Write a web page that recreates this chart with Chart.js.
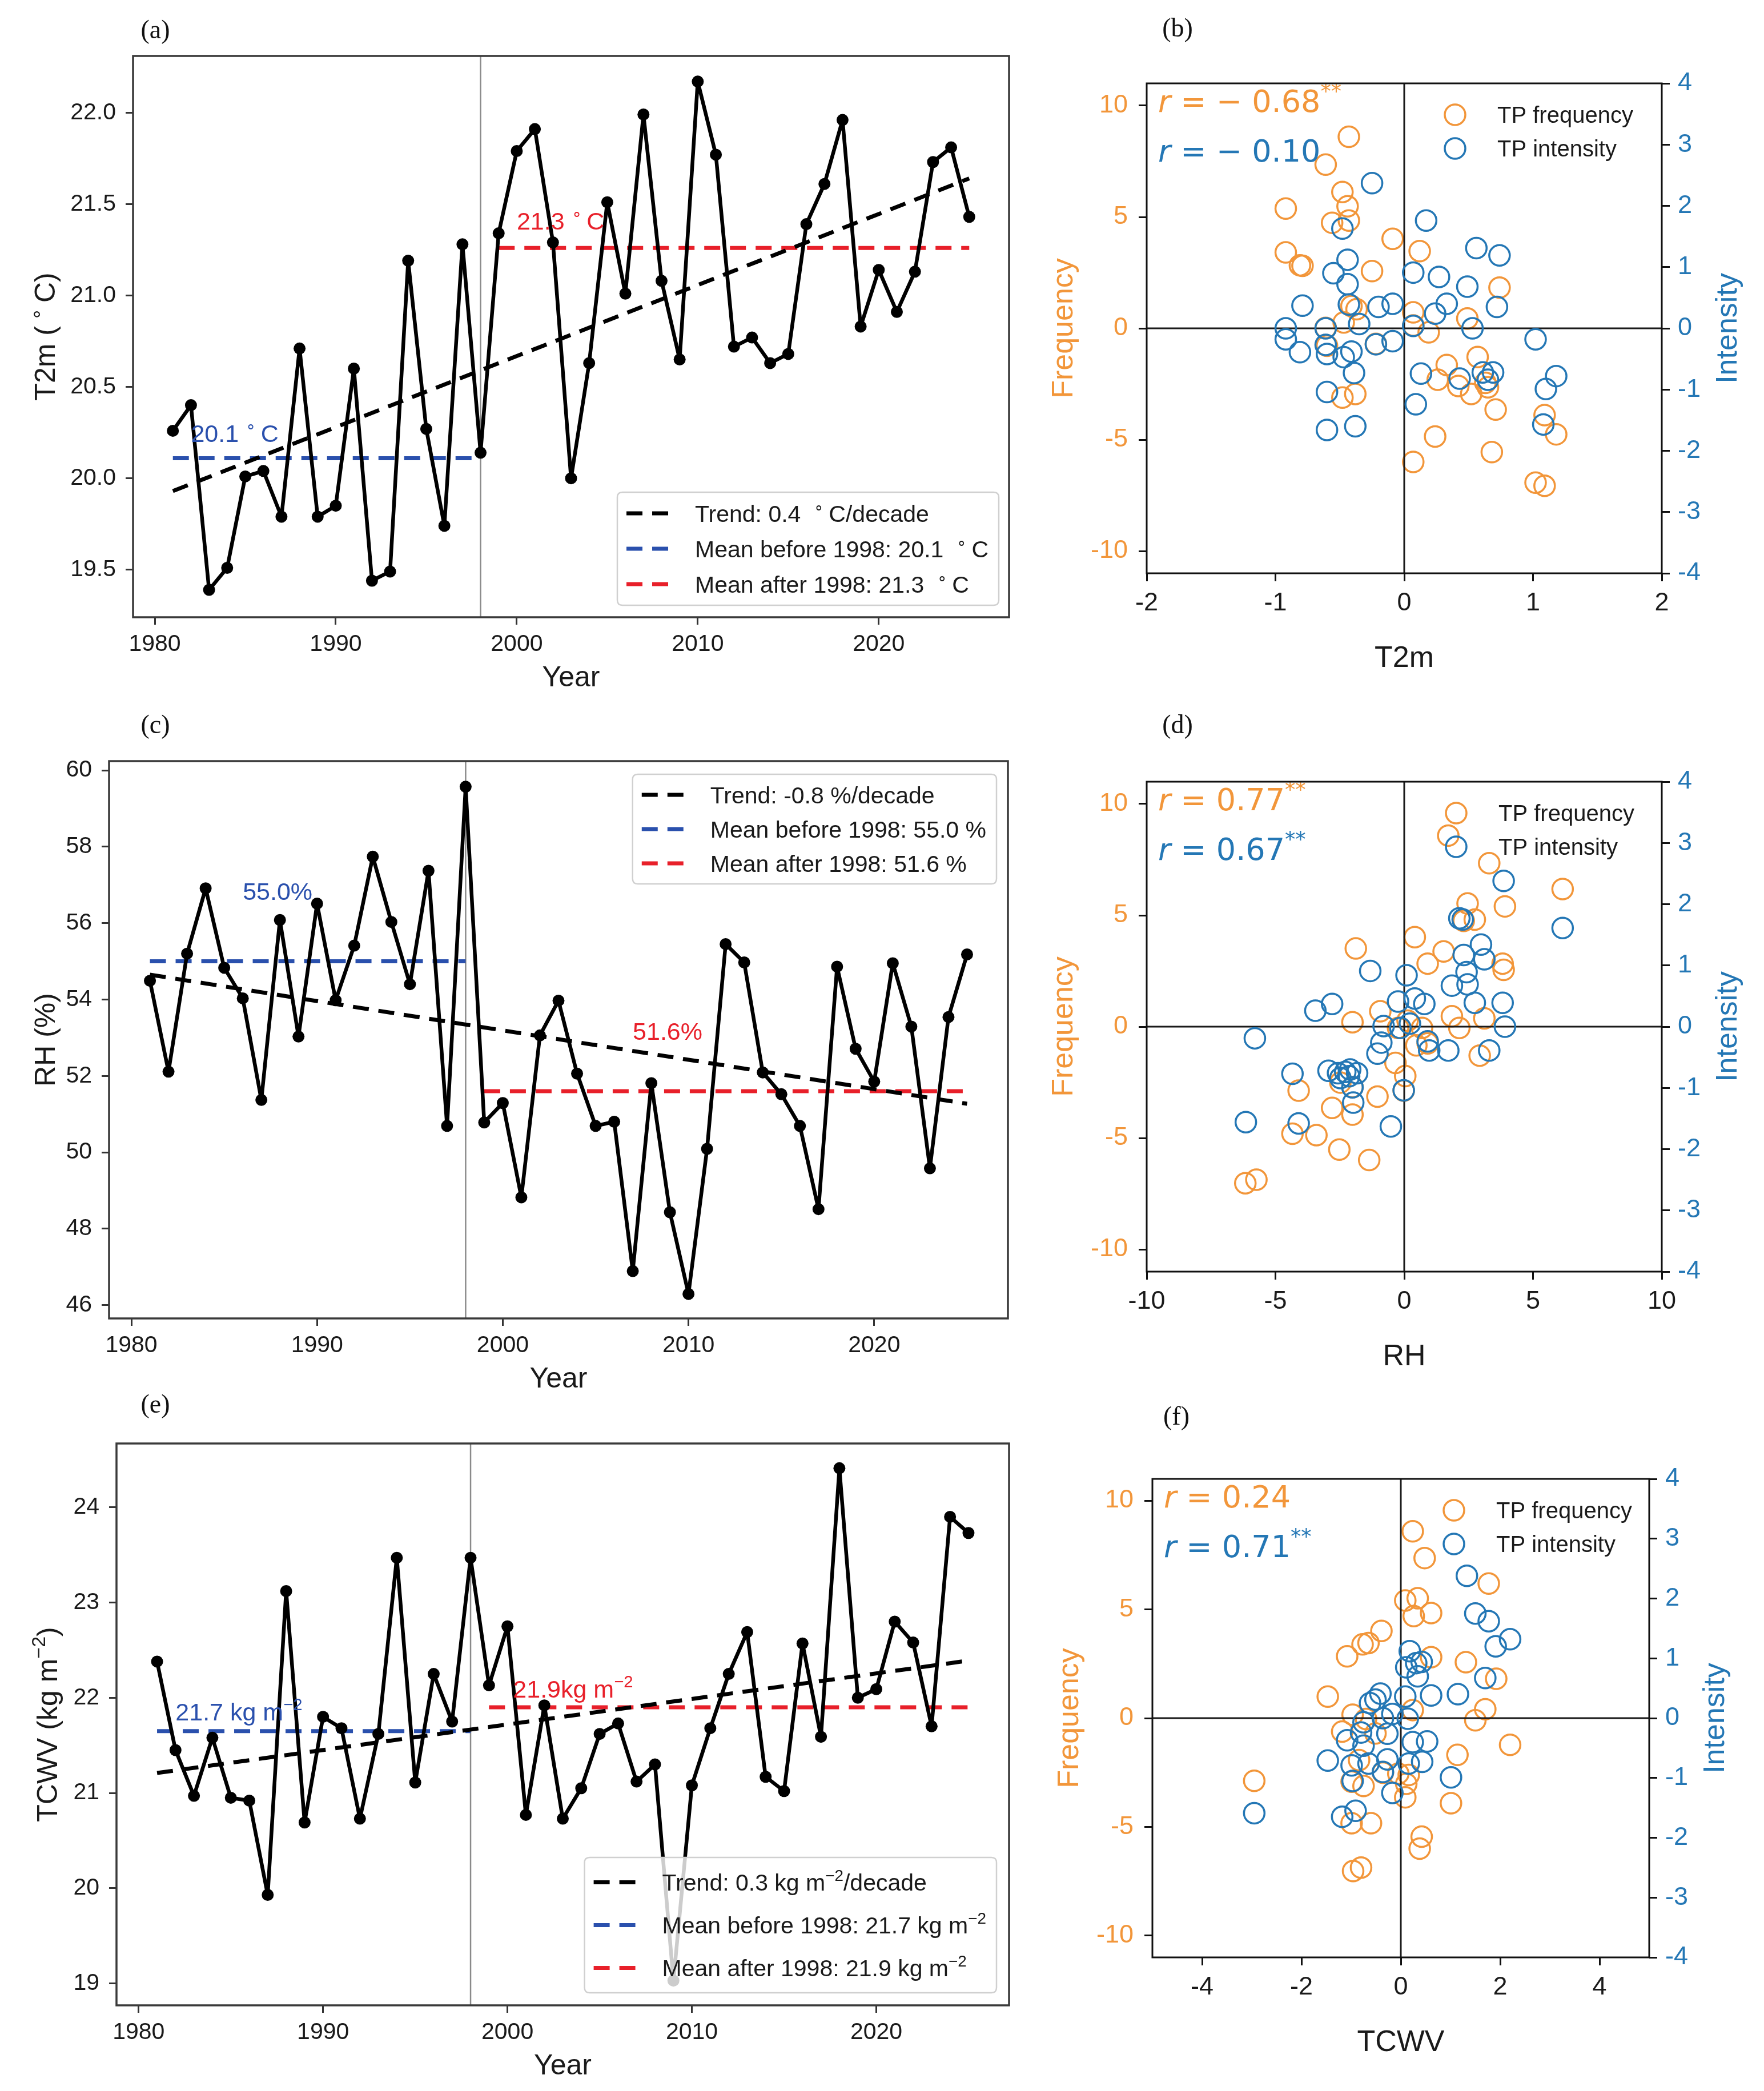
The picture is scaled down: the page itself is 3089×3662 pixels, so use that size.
<!DOCTYPE html>
<html>
<head>
<meta charset="utf-8">
<script src="https://cdn.jsdelivr.net/npm/chart.js@4.4.1/dist/chart.umd.min.js"></script>
<style>
  html, body { margin: 0; padding: 0; background: #fff; }
  body { width: 3089px; height: 3662px; position: relative; overflow: hidden; }
  canvas { position: absolute; }
</style>
</head>
<body>
<canvas id="ca"></canvas>
<canvas id="cb"></canvas>
<canvas id="cc"></canvas>
<canvas id="cd"></canvas>
<canvas id="ce"></canvas>
<canvas id="cf"></canvas>
<script>
// ---- data ----
const years = [1981, 1982, 1983, 1984, 1985, 1986, 1987, 1988, 1989, 1990,
  1991, 1992, 1993, 1994, 1995, 1996, 1997, 1998, 1999, 2000,
  2001, 2002, 2003, 2004, 2005, 2006, 2007, 2008, 2009, 2010,
  2011, 2012, 2013, 2014, 2015, 2016, 2017, 2018, 2019, 2020,
  2021, 2022, 2023, 2024, 2025];
const yearTicks = [1980, 1990, 2000, 2010, 2020];
const yearRange = [1978.8, 2027.2];
const beforeSpan = [1981, 1998];
const afterSpan = [1999, 2025];
const breakYear = 1998;

const t2m = [20.26, 20.40, 19.39, 19.51, 20.01, 20.04, 19.79, 20.71, 19.79, 19.85,
  20.60, 19.44, 19.49, 21.19, 20.27, 19.74, 21.28, 20.14, 21.34, 21.79,
  21.91, 21.29, 20.00, 20.63, 21.51, 21.01, 21.99, 21.08, 20.65, 22.17,
  21.77, 20.72, 20.77, 20.63, 20.68, 21.39, 21.61, 21.96, 20.83, 21.14,
  20.91, 21.13, 21.73, 21.81, 21.43];
const t2mTrend = [19.93, 21.64];
const t2mMeans = [20.11, 21.26];
const t2mRange = [19.24, 22.31];
const t2mTicks = [19.5, 20.0, 20.5, 21.0, 21.5, 22.0];

const rh = [54.49, 52.11, 55.2, 56.91, 54.83, 54.03, 51.37, 56.08, 53.03, 56.51,
  53.98, 55.41, 57.74, 56.03, 54.4, 57.37, 50.69, 59.57, 50.78, 51.29,
  48.82, 53.06, 53.97, 52.06, 50.69, 50.8, 46.89, 51.81, 48.43, 46.29,
  50.09, 55.45, 54.97, 52.09, 51.52, 50.69, 48.51, 54.86, 52.71, 51.85,
  54.95, 53.29, 49.58, 53.54, 55.18];
const rhTrend = [54.65, 51.27];
const rhMeans = [55.0, 51.6];
const rhRange = [45.65, 60.24];
const rhTicks = [46, 48, 50, 52, 54, 56, 58, 60];

const tcwv = [22.38, 21.45, 20.97, 21.58, 20.95, 20.92, 19.93, 23.12, 20.69, 21.80,
  21.68, 20.73, 21.62, 23.47, 21.11, 22.25, 21.75, 23.47, 22.13, 22.75,
  20.77, 21.92, 20.73, 21.05, 21.62, 21.73, 21.12, 21.30, 19.03, 21.08,
  21.68, 22.25, 22.69, 21.17, 21.02, 22.57, 21.59, 24.41, 22.00, 22.09,
  22.80, 22.58, 21.70, 23.90, 23.73];
const tcwvTrend = [21.21, 22.39];
const tcwvMeans = [21.65, 21.9];
const tcwvRange = [18.77, 24.67];
const tcwvTicks = [19, 20, 21, 22, 23, 24];

// scatter: [anomaly, value]
const freqT2m = [[-0.43, 8.6], [-0.61, 7.35], [-0.92, 5.38], [-0.48, 6.12], [-0.44, 5.48], [-0.56, 4.74],
  [-0.43, 4.84], [-0.09, 4.02], [-0.92, 3.41], [-0.81, 2.83], [-0.79, 2.81], [0.12, 3.47], [-0.25, 2.57],
  [0.74, 1.83], [-0.41, 1.00], [-0.37, 0.86], [0.07, 0.72], [0.49, 0.44], [-0.61, 0.02], [-0.47, 0.26],
  [0.07, 0.13], [-0.60, -0.78], [-0.22, -0.70], [0.19, -0.18], [0.57, -1.29], [0.33, -1.65], [0.26, -2.31],
  [0.42, -2.59], [0.52, -2.95], [0.65, -2.65], [0.63, -2.45], [-0.48, -3.11], [-0.38, -2.95], [0.71, -3.65],
  [1.09, -3.90], [1.18, -4.76], [0.24, -4.86], [0.07, -6.0], [0.68, -5.56], [1.02, -6.93], [1.09, -7.07]];
const intT2m = [[-0.25, 2.37], [-0.48, 1.63], [0.17, 1.76], [0.56, 1.31], [0.74, 1.19], [-0.44, 1.12],
  [-0.55, 0.90], [0.07, 0.91], [0.27, 0.84], [-0.44, 0.72], [0.49, 0.68], [-0.79, 0.37], [-0.20, 0.35],
  [-0.09, 0.40], [-0.43, 0.39], [0.33, 0.40], [0.24, 0.24], [0.72, 0.35], [-0.92, 0.0], [-0.61, 0.0],
  [-0.35, 0.07], [0.07, 0.04], [0.53, 0.0], [-0.92, -0.18], [1.02, -0.18], [-0.09, -0.21], [-0.22, -0.26],
  [-0.61, -0.27], [-0.81, -0.39], [-0.60, -0.42], [-0.41, -0.38], [-0.47, -0.47], [-0.39, -0.73], [0.13, -0.74],
  [0.43, -0.82], [0.61, -0.72], [0.69, -0.72], [0.65, -0.84], [1.18, -0.78], [1.10, -0.99], [-0.60, -1.04],
  [0.09, -1.24], [-0.60, -1.66], [-0.38, -1.60], [1.08, -1.57]];
const freqRH = [[1.71, 8.58], [3.30, 7.34], [6.15, 6.18], [3.91, 5.40], [2.46, 5.53], [2.31, 4.75],
  [2.74, 4.81], [0.41, 4.02], [-1.88, 3.51], [1.53, 3.38], [0.91, 2.83], [3.82, 2.83], [3.86, 2.55], [-0.93, 0.69],
  [-2.01, 0.20], [1.85, 0.47], [2.14, -0.06], [3.11, 0.37], [0.13, 0.27], [-0.24, -0.06], [0.69, -0.06],
  [0.91, -0.75], [0.47, -0.84], [2.93, -1.30], [-0.34, -1.63], [0.04, -2.22], [-2.48, -2.51], [-2.01, -2.71],
  [-4.10, -2.87], [-0.02, -2.87], [-1.04, -3.14], [-2.80, -3.65], [-2.01, -3.95], [-4.34, -4.81], [-3.41, -4.87],
  [-2.52, -5.52], [-1.36, -5.99], [-6.17, -7.03], [-5.74, -6.87]];
const intRH = [[3.86, 2.38], [6.15, 1.61], [2.14, 1.77], [2.27, 1.75], [2.98, 1.34], [2.31, 1.17],
  [3.11, 1.10], [-1.32, 0.91], [0.09, 0.84], [2.42, 0.89], [1.85, 0.67], [2.46, 0.69], [2.74, 0.39], [3.82, 0.39],
  [-3.45, 0.26], [-2.80, 0.37], [-0.24, 0.41], [0.41, 0.46], [0.78, 0.37], [-0.80, 0.01], [0.22, 0.05], [3.91, 0.0],
  [-0.15, -0.02], [-5.80, -0.19], [-0.89, -0.26], [0.91, -0.24], [0.97, -0.39], [-1.04, -0.44], [1.71, -0.39],
  [3.30, -0.39], [-4.34, -0.77], [-2.94, -0.72], [-2.57, -0.76], [-2.29, -0.74], [-2.10, -0.70], [-1.83, -0.76],
  [-2.48, -0.84], [-2.01, -0.99], [-0.02, -1.04], [-1.98, -1.24], [-6.15, -1.56], [-4.10, -1.58], [-0.52, -1.63],
  [-2.14, -0.81]];
const freqTCWV = [[0.24, 8.59], [0.48, 7.36], [1.77, 6.19], [0.09, 5.41], [0.34, 5.51], [0.26, 4.69],
  [0.61, 4.83], [-0.39, 4.01], [-0.77, 3.39], [-0.65, 3.45], [-1.08, 2.84], [0.61, 2.80], [1.31, 2.57], [1.92, 1.81],
  [-1.47, 0.99], [-0.97, 0.16], [1.70, 0.41], [0.24, 0.37], [1.50, -0.10], [-0.70, -0.04], [-1.18, -0.62],
  [-0.51, -0.70], [2.20, -1.23], [1.14, -1.69], [-0.84, -1.93], [-0.36, -2.51], [0.16, -2.61], [-0.05, -2.55],
  [-2.95, -2.88], [-0.75, -3.12], [-0.99, -2.92], [1.01, -3.91], [0.09, -3.64], [-0.99, -4.83], [-0.60, -4.83],
  [0.42, -5.45], [0.38, -6.00], [-0.96, -7.03], [-0.80, -6.87], [0.11, -3.02]];
const intTCWV = [[1.33, 2.38], [1.50, 1.75], [1.77, 1.62], [2.20, 1.32], [1.91, 1.20], [0.18, 1.12],
  [0.11, 0.85], [0.31, 0.92], [0.42, 0.94], [0.34, 0.70], [1.70, 0.67], [0.61, 0.38], [1.15, 0.40], [0.09, 0.36],
  [-0.41, 0.41], [-0.51, 0.31], [-0.62, 0.25], [-0.17, 0.07], [0.14, -0.01], [-0.36, 0.0], [-0.75, -0.07],
  [-1.08, -0.37], [-0.80, -0.24], [-0.27, -0.26], [0.24, -0.40], [0.53, -0.39], [-0.75, -0.46], [-1.47, -0.71],
  [-0.99, -0.79], [-0.65, -0.76], [-0.27, -0.69], [0.16, -0.76], [0.43, -0.73], [-0.36, -0.90], [1.01, -0.99],
  [-0.97, -1.05], [-0.17, -1.25], [-2.95, -1.59], [-1.18, -1.65], [-0.91, -1.55]];

const t2mAnomRange = [-2, 2], t2mAnomTicks = [-2, -1, 0, 1, 2];
const rhAnomRange = [-10, 10], rhAnomTicks = [-10, -5, 0, 5, 10];
const tcwvAnomRange = [-5, 5], tcwvAnomTicks = [-4, -2, 0, 2, 4];
const freqRange = [-11, 11], freqTicks = [-10, -5, 0, 5, 10];
const intRange = [-4, 4], intTicks = [-4, -3, -2, -1, 0, 1, 2, 3, 4];
const seriesNames = ['TP frequency', 'TP intensity'];

// ---- styles ----
const FONT = "'Liberation Sans', Arial, Helvetica, sans-serif";
const MATH = "'DejaVu Sans', sans-serif";
const SERIF = "'Liberation Serif', 'Times New Roman', serif";
const ORANGE = '#f2963a';
const BLUE = '#2477b5';
const MEANBLUE = '#2a50ad';
const RED = '#e8202a';
const DASH = [28, 17];

// tiny rich text: ^{..} superscript, *{..} italic
function segs(s) {
  const out = [];
  const re = /([\^*])\{([^}]*)\}/g;
  let last = 0, m;
  while ((m = re.exec(s))) {
    if (m.index > last) out.push({ t: s.slice(last, m.index) });
    out.push({ t: m[2], sup: m[1] === '^', it: m[1] === '*' });
    last = re.lastIndex;
  }
  if (last < s.length) out.push({ t: s.slice(last) });
  return out;
}
function segFont(g, size, fam) {
  return (g.it ? 'italic ' : '') + (g.sup ? size * 0.68 : size) + 'px ' + fam;
}
function richWidth(ctx, s, size, fam) {
  let w = 0;
  segs(s).forEach(g => { ctx.font = segFont(g, size, fam); w += ctx.measureText(g.t).width; });
  return w;
}
function drawRich(ctx, s, x, y, size, fam, color, align) {
  const w = richWidth(ctx, s, size, fam);
  let px = align === 'center' ? x - w / 2 : (align === 'right' ? x - w : x);
  ctx.fillStyle = color;
  ctx.textAlign = 'left';
  ctx.textBaseline = 'alphabetic';
  segs(s).forEach(g => {
    ctx.font = segFont(g, size, fam);
    ctx.fillText(g.t, px, g.sup ? y - size * 0.42 : y);
    px += ctx.measureText(g.t).width;
  });
}
function drawRotated(ctx, s, cx, cy, size, fam, color) {
  ctx.save();
  ctx.translate(cx, cy);
  ctx.rotate(-Math.PI / 2);
  drawRich(ctx, s, 0, size * 0.36, size, fam, color, 'center');
  ctx.restore();
}
function roundBox(ctx, x, y, w, h, r) {
  ctx.beginPath();
  ctx.moveTo(x + r, y);
  ctx.lineTo(x + w - r, y); ctx.quadraticCurveTo(x + w, y, x + w, y + r);
  ctx.lineTo(x + w, y + h - r); ctx.quadraticCurveTo(x + w, y + h, x + w - r, y + h);
  ctx.lineTo(x + r, y + h); ctx.quadraticCurveTo(x, y + h, x, y + h - r);
  ctx.lineTo(x, y + r); ctx.quadraticCurveTo(x, y, x + r, y);
  ctx.closePath();
}
function placeCanvas(id, rect) {
  const c = document.getElementById(id);
  c.width = rect[2]; c.height = rect[3];
  c.style.left = rect[0] + 'px'; c.style.top = rect[1] + 'px';
  c.style.width = rect[2] + 'px'; c.style.height = rect[3] + 'px';
  return c;
}
function pts(xs, ys) { return xs.map((x, i) => ({ x: x, y: ys[i] })); }
function tickAxis(o) {
  return {
    type: 'linear', position: o.position, min: o.range[0], max: o.range[1],
    afterFit: s => { if (o.width !== undefined) s.width = o.width; if (o.height !== undefined) s.height = o.height; },
    afterBuildTicks: s => { s.ticks = o.ticks.map(v => ({ value: v })); },
    ticks: { autoSkip: false, maxRotation: 0, minRotation: 0, padding: o.pad, color: o.color,
      font: { size: o.size, family: FONT }, callback: o.fmt },
    grid: { drawOnChartArea: false, drawTicks: true, tickLength: o.tl, tickWidth: 3, tickColor: o.tickColor || '#333' },
    border: { display: false },
    title: { display: false }
  };
}

// ---- time series panels ----
function timeSeries(p) {
  const [cx, cy, cw, ch] = p.rect;
  const [bl, bt, br, bb] = p.box;
  const canvas = placeCanvas(p.id, p.rect);
  const deco = {
    id: 'tsDeco',
    afterDatasetsDraw(chart) {
      const ctx = chart.ctx, a = chart.chartArea, xs = chart.scales.x, ys = chart.scales.y;
      ctx.save();
      p.notes.forEach(n => drawRich(ctx, n.text, xs.getPixelForValue(n.x), ys.getPixelForValue(n.y), 43, FONT, n.color, 'left'));
      const L = p.legend;
      let tw = 0;
      L.items.forEach(it => { tw = Math.max(tw, richWidth(ctx, it.text, 41, FONT)); });
      const bw = 136 + tw + 18, bh = L.rowH * 3 + 12;
      const bx = a.right - L.dx - bw;
      const by = L.upper ? a.top + L.dy : a.bottom - L.dy - bh;
      roundBox(ctx, bx, by, bw, bh, 9);
      ctx.fillStyle = 'rgba(255,255,255,0.8)';
      ctx.fill();
      ctx.strokeStyle = '#d0d0d0'; ctx.lineWidth = 2.5; ctx.stroke();
      L.items.forEach((it, i) => {
        const yc = by + 6 + L.rowH * (i + 0.5);
        ctx.strokeStyle = it.color; ctx.lineWidth = 7; ctx.setLineDash(DASH); ctx.lineCap = 'butt';
        ctx.beginPath(); ctx.moveTo(bx + 16, yc); ctx.lineTo(bx + 90, yc); ctx.stroke();
        ctx.setLineDash([]);
        drawRich(ctx, it.text, bx + 136, yc + 41 * 0.36, 41, FONT, '#1a1a1a', 'left');
      });
      ctx.restore();
    },
    afterDraw(chart) {
      const ctx = chart.ctx, a = chart.chartArea;
      ctx.save();
      ctx.strokeStyle = '#3a3a3a'; ctx.lineWidth = 3.5;
      ctx.strokeRect(a.left, a.top, a.width, a.height);
      drawRich(ctx, 'Year', (a.left + a.right) / 2, a.bottom + 103 + 18, 50, FONT, '#1a1a1a', 'center');
      drawRotated(ctx, p.yTitle, p.yTitleX - cx, (a.top + a.bottom) / 2, 50, FONT, '#1a1a1a');
      ctx.font = '46px ' + SERIF; ctx.fillStyle = '#111'; ctx.textAlign = 'center'; ctx.textBaseline = 'middle';
      ctx.fillText(p.label, p.labelPos[0] - cx, p.labelPos[1] - cy);
      ctx.restore();
    }
  };
  new Chart(canvas, {
    type: 'scatter',
    data: {
      datasets: [
        { data: pts(years, p.values), showLine: true, borderColor: '#000', borderWidth: 6.5, borderJoinStyle: 'round',
          pointRadius: 10.5, pointBackgroundColor: '#000', pointBorderWidth: 0 },
        { data: pts([years[0], years[years.length - 1]], p.trend), showLine: true, borderColor: '#000',
          borderWidth: 7, borderDash: DASH, pointRadius: 0 },
        { data: pts(beforeSpan, [p.means[0], p.means[0]]), showLine: true, borderColor: MEANBLUE,
          borderWidth: 7, borderDash: DASH, pointRadius: 0 },
        { data: pts(afterSpan, [p.means[1], p.means[1]]), showLine: true, borderColor: RED,
          borderWidth: 7, borderDash: DASH, pointRadius: 0 },
        { data: pts([breakYear, breakYear], p.yRange), showLine: true, borderColor: '#8a8a8a',
          borderWidth: 2.5, pointRadius: 0 }
      ]
    },
    options: {
      responsive: false, animation: false, devicePixelRatio: 1, events: [],
      layout: { padding: { top: bt - cy, left: 0, right: cx + cw - br, bottom: 0 } },
      plugins: { legend: { display: false }, tooltip: { enabled: false } },
      scales: {
        x: tickAxis({ position: 'bottom', range: yearRange, ticks: yearTicks, height: cy + ch - bb,
          pad: 10, tl: 13, size: 41, color: '#1a1a1a', fmt: v => String(v) }),
        y: tickAxis({ position: 'left', range: p.yRange, ticks: p.yTicks, width: bl - cx,
          pad: 17, tl: 13, size: 41, color: '#1a1a1a', fmt: p.yFmt })
      }
    },
    plugins: [deco]
  });
}

// ---- scatter panels ----
function scatterPanel(p) {
  const [cx, cy, cw, ch] = p.rect;
  const [bl, bt, br, bb] = p.box;
  const canvas = placeCanvas(p.id, p.rect);
  const deco = {
    id: 'scDeco',
    afterDatasetsDraw(chart) {
      const ctx = chart.ctx, a = chart.chartArea;
      ctx.save();
      drawRich(ctx, p.rText[0], a.left + 20, a.top + 50, 54, MATH, ORANGE, 'left');
      drawRich(ctx, p.rText[1], a.left + 20, a.top + 137, 54, MATH, BLUE, 'left');
      const mx = p.legendX - cx;
      [ORANGE, BLUE].forEach((col, i) => {
        const y = a.top + 55 + 59 * i;
        ctx.beginPath(); ctx.arc(mx, y, 18, 0, Math.PI * 2);
        ctx.strokeStyle = col; ctx.lineWidth = 3.5; ctx.stroke();
        drawRich(ctx, seriesNames[i], mx + 74, y + 40 * 0.36, 40, FONT, '#1a1a1a', 'left');
      });
      ctx.restore();
    },
    afterDraw(chart) {
      const ctx = chart.ctx, a = chart.chartArea;
      ctx.save();
      ctx.strokeStyle = '#111'; ctx.lineWidth = 3;
      ctx.strokeRect(a.left, a.top, a.width, a.height);
      const my = (a.top + a.bottom) / 2;
      drawRich(ctx, p.xTitle, (a.left + a.right) / 2, a.bottom + 145 + 19, 52, FONT, '#1a1a1a', 'center');
      drawRotated(ctx, 'Frequency', a.left - 149, my, 52, FONT, ORANGE);
      drawRotated(ctx, 'Intensity', a.right + 112, my, 52, FONT, BLUE);
      ctx.font = '46px ' + SERIF; ctx.fillStyle = '#111'; ctx.textAlign = 'center'; ctx.textBaseline = 'middle';
      ctx.fillText(p.label, p.labelPos[0] - cx, p.labelPos[1] - cy);
      ctx.restore();
    }
  };
  const circ = (col) => ({ pointStyle: 'circle', pointRadius: 18, pointHoverRadius: 18, pointBorderWidth: 3.5,
    pointBorderColor: col, pointBackgroundColor: 'rgba(0,0,0,0)', showLine: false });
  new Chart(canvas, {
    type: 'scatter',
    data: {
      datasets: [
        Object.assign({ data: p.intens.map(d => ({ x: d[0], y: d[1] })), yAxisID: 'y2' }, circ(BLUE)),
        { data: pts([0, 0], freqRange), showLine: true, borderColor: '#1a1a1a', borderWidth: 3, pointRadius: 0 },
        { data: pts(p.xRange, [0, 0]), showLine: true, borderColor: '#1a1a1a', borderWidth: 3, pointRadius: 0 },
        Object.assign({ data: p.freq.map(d => ({ x: d[0], y: d[1] })), yAxisID: 'y' }, circ(ORANGE))
      ]
    },
    options: {
      responsive: false, animation: false, devicePixelRatio: 1, events: [],
      layout: { padding: { top: bt - cy, left: 0, right: 0, bottom: 0 } },
      plugins: { legend: { display: false }, tooltip: { enabled: false } },
      scales: {
        x: tickAxis({ position: 'bottom', range: p.xRange, ticks: p.xTicks, height: cy + ch - bb,
          pad: 12, tl: 14, size: 45, color: '#1a1a1a', tickColor: '#111', fmt: v => String(v) }),
        y: tickAxis({ position: 'left', range: freqRange, ticks: freqTicks, width: bl - cx,
          pad: 19, tl: 14, size: 45, color: ORANGE, tickColor: '#111', fmt: v => String(v) }),
        y2: tickAxis({ position: 'right', range: intRange, ticks: intTicks, width: cx + cw - br,
          pad: 14, tl: 14, size: 45, color: BLUE, tickColor: '#111', fmt: v => String(v) })
      }
    },
    plugins: [deco]
  });
}

const DEG = ' ^{\u2218}\u2009C';
timeSeries({
  id: 'ca', rect: [0, 0, 1800, 1225], box: [233, 98, 1767, 1081],
  values: t2m, trend: t2mTrend, means: t2mMeans, yRange: t2mRange, yTicks: t2mTicks,
  yFmt: v => v.toFixed(1), yTitle: 'T2m (\u2009^{\u2218}\u2009C)', yTitleX: 78,
  label: '(a)', labelPos: [272, 55],
  notes: [{ text: '20.1' + DEG, x: 1982, y: 20.2, color: MEANBLUE }, { text: '21.3' + DEG, x: 2000, y: 21.36, color: RED }],
  legend: { upper: false, dx: 18, dy: 21, rowH: 62, items: [
    { text: 'Trend: 0.4 ' + DEG + '/decade', color: '#000' },
    { text: 'Mean before 1998: 20.1 ' + DEG, color: MEANBLUE },
    { text: 'Mean after 1998: 21.3 ' + DEG, color: RED }] }
});
timeSeries({
  id: 'cc', rect: [0, 1220, 1800, 1230], box: [191, 1333, 1765, 2309],
  values: rh, trend: rhTrend, means: rhMeans, yRange: rhRange, yTicks: rhTicks,
  yFmt: v => String(v), yTitle: 'RH (%)', yTitleX: 78,
  label: '(c)', labelPos: [272, 1272],
  notes: [{ text: '55.0%', x: 1986, y: 56.6, color: MEANBLUE }, { text: '51.6%', x: 2007, y: 52.95, color: RED }],
  legend: { upper: true, dx: 20, dy: 23, rowH: 60, items: [
    { text: 'Trend: -0.8 %/decade', color: '#000' },
    { text: 'Mean before 1998: 55.0 %', color: MEANBLUE },
    { text: 'Mean after 1998: 51.6 %', color: RED }] }
});
timeSeries({
  id: 'ce', rect: [0, 2425, 1800, 1237], box: [204, 2528, 1767, 3512],
  values: tcwv, trend: tcwvTrend, means: tcwvMeans, yRange: tcwvRange, yTicks: tcwvTicks,
  yFmt: v => String(v), yTitle: 'TCWV (kg m^{\u22122})', yTitleX: 82,
  label: '(e)', labelPos: [272, 2462],
  notes: [{ text: '21.7 kg m^{\u22122}', x: 1982, y: 21.76, color: MEANBLUE }, { text: '21.9kg m^{\u22122}', x: 2000.3, y: 22.0, color: RED }],
  legend: { upper: false, dx: 22, dy: 22, rowH: 75, items: [
    { text: 'Trend: 0.3 kg m^{\u22122}/decade', color: '#000' },
    { text: 'Mean before 1998: 21.7 kg m^{\u22122}', color: MEANBLUE },
    { text: 'Mean after 1998: 21.9 kg m^{\u22122}', color: RED }] }
});

scatterPanel({
  id: 'cb', rect: [1800, 0, 1289, 1225], box: [2008, 146, 2910, 1004],
  freq: freqT2m, intens: intT2m, xRange: t2mAnomRange, xTicks: t2mAnomTicks, xTitle: 'T2m', legendX: 2548,
  rText: ['*{r} = \u2212 0.68^{**}', '*{r} = \u2212 0.10'], label: '(b)', labelPos: [2062, 52]
});
scatterPanel({
  id: 'cd', rect: [1800, 1220, 1289, 1230], box: [2008, 1369, 2910, 2227],
  freq: freqRH, intens: intRH, xRange: rhAnomRange, xTicks: rhAnomTicks, xTitle: 'RH', legendX: 2550,
  rText: ['*{r} = 0.77^{**}', '*{r} = 0.67^{**}'], label: '(d)', labelPos: [2062, 1272]
});
scatterPanel({
  id: 'cf', rect: [1800, 2425, 1289, 1237], box: [2018, 2590, 2888, 3428],
  freq: freqTCWV, intens: intTCWV, xRange: tcwvAnomRange, xTicks: tcwvAnomTicks, xTitle: 'TCWV', legendX: 2546,
  rText: ['*{r} = 0.24', '*{r} = 0.71^{**}'], label: '(f)', labelPos: [2060, 2483]
});
</script>
</body>
</html>
